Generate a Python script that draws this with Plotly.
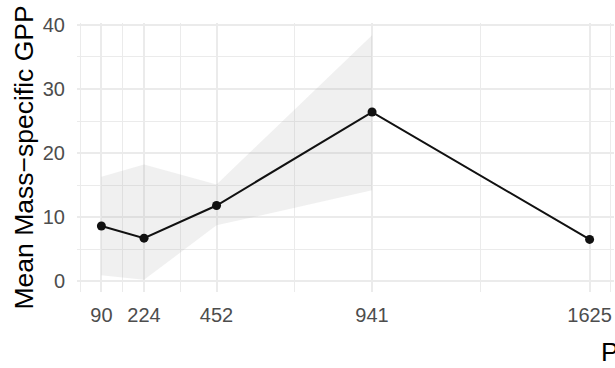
import plotly.graph_objects as go

# Light levels (PAR) and mean mass-specific GPP at each level
par = [90, 224, 452, 941, 1625]
gpp_mean = [8.6, 6.7, 11.8, 26.4, 6.5]

# Confidence band (only available for the first four light levels)
band_par = [90, 224, 452, 941]
band_lower = [0.9, 0.2, 8.7, 14.2]
band_upper = [16.3, 18.2, 15.1, 38.4]

y_major = [0, 10, 20, 30, 40]
y_minor = [5, 15, 25, 35]


def expand(lo, hi, frac=0.05):
    d = hi - lo
    return [lo - frac * d, hi + frac * d]


def minor_breaks(breaks, limits):
    # midpoints between consecutive breaks, extended one step past each end
    step = breaks[1] - breaks[0]
    b = list(breaks)
    if limits[0] < b[0]:
        b = [b[0] - step] + b
    if limits[1] > b[-1]:
        b = b + [b[-1] + step]
    mids = [(a + c) / 2 for a, c in zip(b[:-1], b[1:])]
    return [m for m in mids if limits[0] <= m <= limits[1] and m not in breaks]


x_range = expand(min(par), max(par))
y_range = expand(min(band_lower + gpp_mean), max(band_upper + gpp_mean))
x_minor = minor_breaks(par, x_range)

grid = "#ebebeb"
font_family = "Liberation Sans, Helvetica, Arial, sans-serif"

fig = go.Figure()

fig.add_trace(go.Scatter(
    x=band_par, y=band_lower, mode="lines",
    line=dict(width=0), hoverinfo="skip", showlegend=False,
))
fig.add_trace(go.Scatter(
    x=band_par, y=band_upper, mode="lines",
    line=dict(width=0), fill="tonexty",
    fillcolor="rgba(153,153,153,0.15)", hoverinfo="skip", showlegend=False,
))
fig.add_trace(go.Scatter(
    x=par, y=gpp_mean, mode="lines+markers",
    line=dict(color="#111111", width=2),
    marker=dict(color="#111111", size=9),
    showlegend=False,
))

fig.update_layout(
    width=615, height=368,
    margin=dict(l=77, r=1, t=23, b=76),
    paper_bgcolor="white", plot_bgcolor="white",
    font=dict(family=font_family),
    xaxis=dict(
        range=x_range,
        tickmode="array", tickvals=par, ticktext=[str(v) for v in par],
        tickfont=dict(size=20, color="#4d4d4d"),
        ticks="outside", ticklen=5, tickcolor="rgba(0,0,0,0)",
        showgrid=True, gridcolor=grid, gridwidth=1.8,
        minor=dict(tickmode="array", tickvals=x_minor, showgrid=True,
                   gridcolor=grid, gridwidth=0.9, ticks=""),
        zeroline=False, showline=False,
    ),
    yaxis=dict(
        range=y_range,
        tickmode="array", tickvals=y_major, ticktext=[str(v) for v in y_major],
        tickfont=dict(size=20, color="#4d4d4d"),
        ticks="outside", ticklen=7, tickcolor="rgba(0,0,0,0)",
        showgrid=True, gridcolor=grid, gridwidth=1.8,
        minor=dict(tickmode="array", tickvals=y_minor, showgrid=True,
                   gridcolor=grid, gridwidth=0.9, ticks=""),
        zeroline=False, showline=False,
    ),
    annotations=[
        dict(text="Mean Mass\u2212specific GPP", textangle=-90,
             xref="paper", yref="paper", x=0, y=0.5,
             xanchor="center", yanchor="middle", xshift=-54,
             showarrow=False, font=dict(size=26.5, color="black")),
        dict(text="PAR",
             xref="paper", yref="paper", x=1, y=0,
             xanchor="left", yanchor="middle", xshift=-15, yshift=-60,
             showarrow=False, font=dict(size=26.5, color="black")),
    ],
)

fig.write_html("out.html")
